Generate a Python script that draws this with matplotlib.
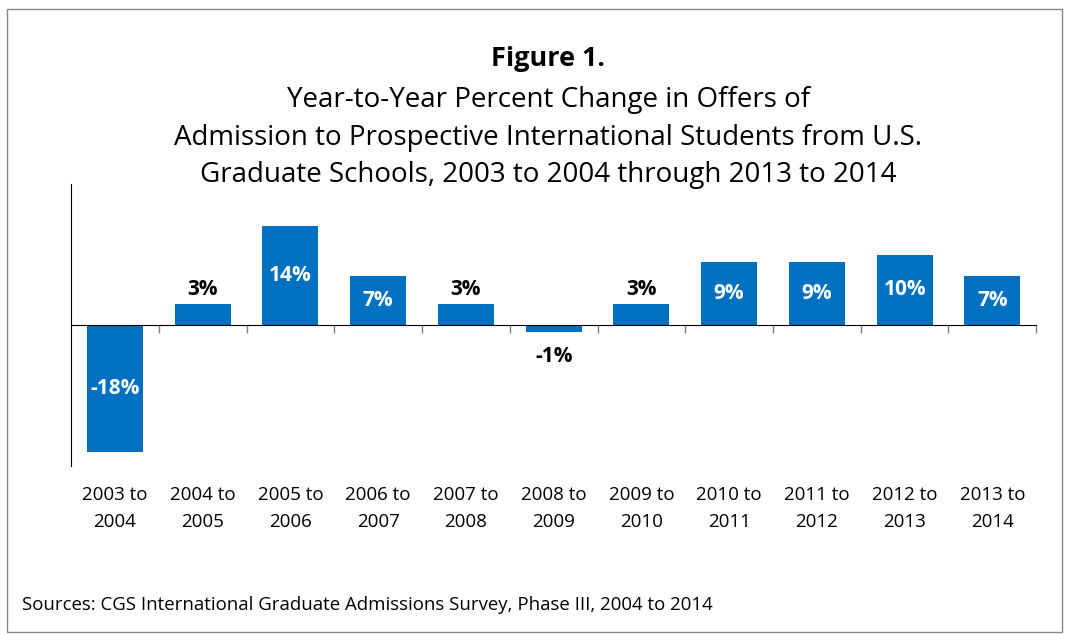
import numpy as np
import matplotlib.pyplot as plt
from matplotlib.patches import Rectangle

periods = ["2003 to\n2004", "2004 to\n2005", "2005 to\n2006", "2006 to\n2007",
           "2007 to\n2008", "2008 to\n2009", "2009 to\n2010", "2010 to\n2011",
           "2011 to\n2012", "2012 to\n2013", "2013 to\n2014"]
change = [-18, 3, 14, 7, 3, -1, 3, 9, 9, 10, 7]
labels = ["-18%", "3%", "14%", "7%", "3%", "-1%", "3%", "9%", "9%", "10%", "7%"]

plt.rcParams['font.family'] = ['Open Sans', 'DejaVu Sans']
blue = "#0070C0"

fig = plt.figure(figsize=(10.65, 6.35), dpi=100)
ax = fig.add_axes([0.0667, 0.266, 0.9063, 0.444])

x = np.arange(len(change))
bars = ax.bar(x, change, width=0.64, color=blue, zorder=2)

for xi, v, lab in zip(x, change, labels):
    if abs(v) >= 5:
        ax.text(xi, v / 2, lab, ha="center", va="center", color="white",
                fontsize=15, fontweight="bold")
    elif v > 0:
        ax.text(xi, v + 0.6, lab, ha="center", va="bottom", color="black",
                fontsize=15, fontweight="bold")
    else:
        ax.text(xi, v - 2.0, lab, ha="center", va="top", color="black",
                fontsize=15, fontweight="bold")

ax.set_xlim(-0.5, 10.5)
ax.set_ylim(-20, 20)
ax.spines["top"].set_visible(False)
ax.spines["right"].set_visible(False)
ax.spines["bottom"].set_position(("data", 0))
ax.spines["bottom"].set_zorder(3)
ax.set_yticks([])
ax.set_xticks(np.arange(0.5, 11, 1))
ax.set_xticklabels([])
ax.tick_params(axis="x", direction="out", length=6, color="#808080", width=1)

for xi, p in zip(x, periods):
    ax.text(xi, -26.0, p, ha="center", va="center", fontsize=13.5,
            linespacing=1.6, clip_on=False)

fig.text(0.515, 0.907, "Figure 1.", ha="center", va="center",
         fontsize=19.5, fontweight="bold")
fig.text(0.515, 0.783,
         "Year-to-Year Percent Change in Offers of\n"
         "Admission to Prospective International Students from U.S.\n"
         "Graduate Schools, 2003 to 2004 through 2013 to 2014",
         ha="center", va="center", fontsize=20, linespacing=1.45)
fig.text(0.021, 0.047,
         "Sources: CGS International Graduate Admissions Survey, Phase III, 2004 to 2014",
         ha="left", va="center", fontsize=13.4)

fig.patches.append(Rectangle((0.007, 0.004), 0.99, 0.982, transform=fig.transFigure,
                             fill=False, edgecolor="#888888", linewidth=1))

fig.savefig("out.png", dpi=100)
